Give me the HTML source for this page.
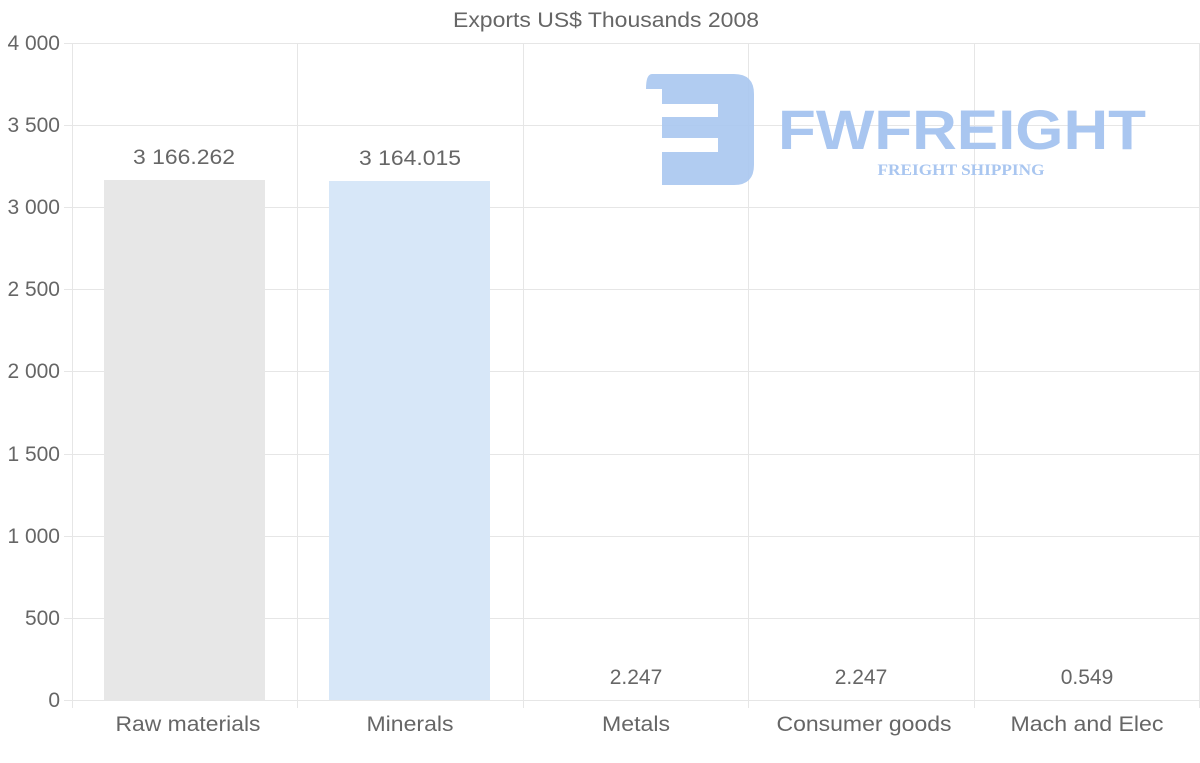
<!DOCTYPE html>
<html><head><meta charset="utf-8"><style>
html,body{margin:0;padding:0;background:#fff;}
svg{display:block;font-family:"Liberation Sans",Arial,sans-serif;}
</style></head><body>
<svg width="1200" height="763" viewBox="0 0 1200 763" xmlns="http://www.w3.org/2000/svg">
<g stroke="#e6e6e6" stroke-width="1">
<line x1="64" y1="43.5" x2="1200" y2="43.5"/>
<line x1="64" y1="125.5" x2="1200" y2="125.5"/>
<line x1="64" y1="207.5" x2="1200" y2="207.5"/>
<line x1="64" y1="289.5" x2="1200" y2="289.5"/>
<line x1="64" y1="371.5" x2="1200" y2="371.5"/>
<line x1="64" y1="454.5" x2="1200" y2="454.5"/>
<line x1="64" y1="536.5" x2="1200" y2="536.5"/>
<line x1="64" y1="618.5" x2="1200" y2="618.5"/>
<line x1="64" y1="700.5" x2="1200" y2="700.5"/>
<line x1="72.5" y1="43" x2="72.5" y2="708"/>
<line x1="297.5" y1="43" x2="297.5" y2="708"/>
<line x1="523.5" y1="43" x2="523.5" y2="708"/>
<line x1="748.5" y1="43" x2="748.5" y2="708"/>
<line x1="974.5" y1="43" x2="974.5" y2="708"/>
<line x1="1199.5" y1="43" x2="1199.5" y2="708"/>
</g>
<rect x="104" y="180" width="161" height="520" fill="#e7e7e7"/>
<rect x="329" y="181" width="161" height="519" fill="#d7e7f8"/>
<g fill="#a9c6f0" opacity="0.9">
<path d="M652 74 H734 Q754 74 754 94 V165 Q754 185 734 185 H662 V152 H718 V138 H662 V117 H718 V104 H662 V89 H646 Q646 74 652 74 Z"/>
</g>
<text x="962" y="149" font-size="56" font-weight="bold" fill="#a9c6f0" text-anchor="middle" textLength="368" lengthAdjust="spacingAndGlyphs">FWFREIGHT</text>
<text x="961" y="175" font-size="16" font-weight="bold" fill="#a9c6f0" text-anchor="middle" font-family="Liberation Serif,serif" textLength="167" lengthAdjust="spacingAndGlyphs">FREIGHT SHIPPING</text>
<text x="606" y="27" font-size="21" fill="#666" text-anchor="middle" textLength="306" lengthAdjust="spacingAndGlyphs">Exports US$ Thousands 2008</text>
<g font-size="21" fill="#666" text-anchor="end">
<text x="60" y="50">4 000</text>
<text x="60" y="132">3 500</text>
<text x="60" y="214">3 000</text>
<text x="60" y="296">2 500</text>
<text x="60" y="378">2 000</text>
<text x="60" y="461">1 500</text>
<text x="60" y="543">1 000</text>
<text x="60" y="625">500</text>
<text x="60" y="707">0</text>
</g>
<g font-size="21" fill="#666" text-anchor="middle">
<text x="188" y="731" textLength="145" lengthAdjust="spacingAndGlyphs">Raw materials</text>
<text x="410" y="731" textLength="87" lengthAdjust="spacingAndGlyphs">Minerals</text>
<text x="636" y="731" textLength="68" lengthAdjust="spacingAndGlyphs">Metals</text>
<text x="864" y="731" textLength="175" lengthAdjust="spacingAndGlyphs">Consumer goods</text>
<text x="1087" y="731" textLength="153" lengthAdjust="spacingAndGlyphs">Mach and Elec</text>
<text x="184" y="164" textLength="102" lengthAdjust="spacingAndGlyphs">3 166.262</text>
<text x="410" y="165" textLength="102" lengthAdjust="spacingAndGlyphs">3 164.015</text>
<text x="636" y="684">2.247</text>
<text x="861" y="684">2.247</text>
<text x="1087" y="684">0.549</text>
</g>
</svg>
</body></html>
